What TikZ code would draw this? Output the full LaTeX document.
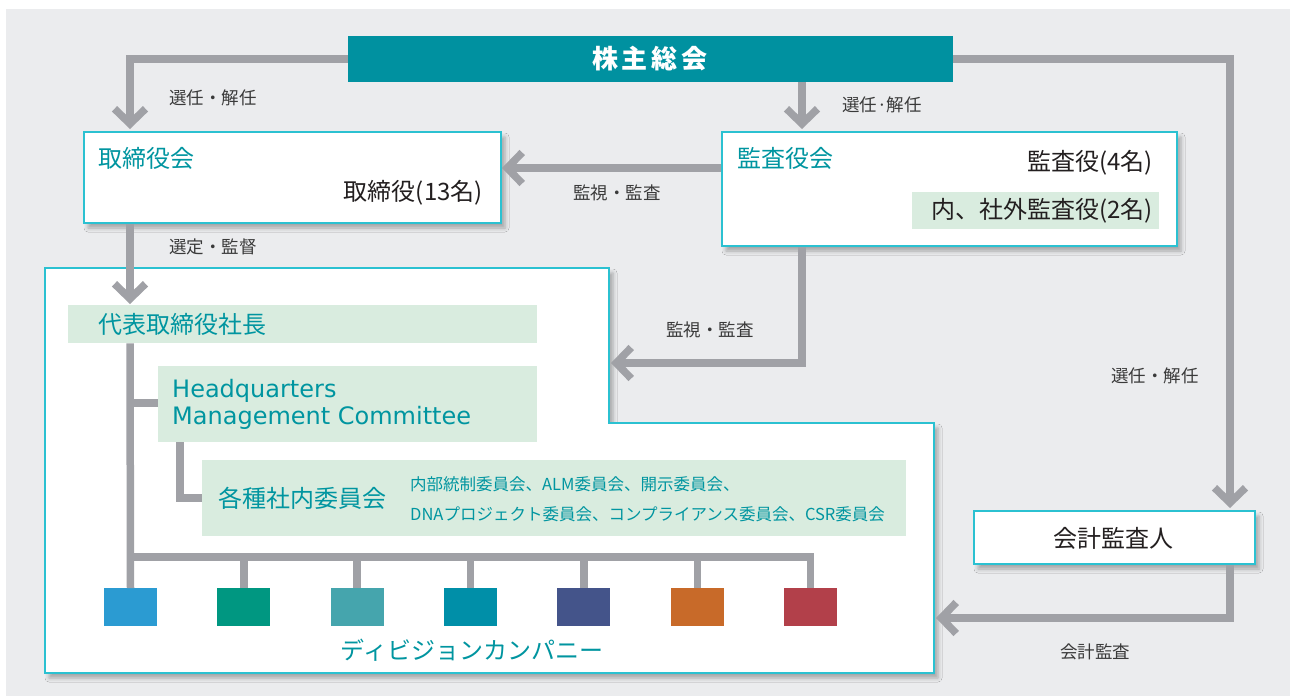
\documentclass[tikz,border=0pt]{standalone}
\usepackage{fontspec}
\setmainfont{Noto Sans CJK JP}
\newfontfamily\hqfont{DejaVu Sans}
\usetikzlibrary{arrows.meta,shadows.blur}
\definecolor{bg}{HTML}{EBECEE}
\definecolor{tealbar}{HTML}{0091A0}
\definecolor{cyanb}{HTML}{2BC1D1}
\definecolor{lgreen}{HTML}{D9ECDF}
\definecolor{tealtxt}{HTML}{0095A0}
\definecolor{lgray}{HTML}{A0A1A6}
\definecolor{txtc}{HTML}{231F20}
\definecolor{lblc}{HTML}{3A3A3A}
\definecolor{sqA}{HTML}{2B9BD2}
\definecolor{sqB}{HTML}{009781}
\definecolor{sqC}{HTML}{45A5AD}
\definecolor{sqD}{HTML}{008FA8}
\definecolor{sqE}{HTML}{44548A}
\definecolor{sqF}{HTML}{C86A29}
\definecolor{sqG}{HTML}{B2404A}
\begin{document}
\begin{tikzpicture}[x=1pt,y=-1pt,
  conn/.style={draw=lgray, line width=7.5pt, line join=miter},
  arr/.style={conn, -{Straight Barb[length=15pt,width=31pt]}},
  shad/.style={blur shadow={shadow xshift=4pt, shadow yshift=-5pt, shadow blur radius=4pt, shadow opacity=30}},
  wbox/.style={draw=cyanb, line width=2pt, fill=white, anchor=north west, inner sep=0pt, shad},
  gbox/.style={fill=lgreen, anchor=north west, inner sep=0pt},
  lbl/.style={text=lblc, font=\fontsize{17.5}{20}\selectfont, inner sep=0pt},
  ttl/.style={text=tealtxt, font=\fontsize{24}{28}\selectfont, inner sep=0pt},
  blk/.style={text=txtc, font=\fontsize{24}{28}\selectfont, inner sep=0pt},
  sq/.style={minimum width=53pt, minimum height=38pt, inner sep=0pt, anchor=north}
]
\useasboundingbox (0,0) rectangle (1290,696);
\fill[white] (0,0) rectangle (1290,696);
\fill[bg] (6,9) rectangle (1290,696);

% big white area
\path[draw=cyanb, line width=2pt, fill=white, shad]
  (45,268) -- (609,268) -- (609,423) -- (934,423) -- (934,673) -- (45,673) -- cycle;

% top bar
\node[fill=tealbar, minimum width=605pt, minimum height=46pt, anchor=north west, inner sep=0pt] (kabu) at (348,36) {};
\node[text=white, font=\fontsize{26}{30}\selectfont\bfseries, inner sep=0pt] (kabut) at (650,59) {株\kern4pt主\kern4pt総\kern4pt会};

% boards
\node[wbox, minimum width=417pt, minimum height=91pt] (tori) at (83,131) {};
\node[ttl, anchor=west] (torit) at (98,158) {取締役会};
\node[blk, anchor=east] (torin) at (483,193) {取締役(13名)};

\node[wbox, minimum width=455pt, minimum height=114pt] (kansa) at (721,131) {};
\node[ttl, anchor=west] (kansat) at (737,158) {監査役会};
\node[blk, anchor=east] (kansan) at (1153,163) {監査役(4名)};
\node[gbox, minimum width=247pt, minimum height=37pt] (shagai) at (912,192) {};
\node[blk, anchor=east] (shagait) at (1153,211) {内、社外監査役(2名)};

\node[wbox, minimum width=281pt, minimum height=53pt] (kaikei) at (973,510) {};
\node[blk] (kaikeit) at (1113,538) {会計監査人};

% inside big box
\node[gbox, minimum width=469pt, minimum height=38pt] (daihyo) at (68,305) {};
\node[ttl, anchor=west] (daihyot) at (98,324) {代表取締役社長};
\node[gbox, minimum width=379pt, minimum height=76pt] (hq) at (158,366) {};
\node[ttl, anchor=west, align=left, font=\hqfont\fontsize{24}{27}\selectfont] (hqt) at (172,404) {Headquarters\\Management Committee};
\node[gbox, minimum width=704pt, minimum height=76pt] (iin) at (202,460) {};
\node[ttl, anchor=west] (iint) at (218,498) {各種社内委員会};
\node[text=tealtxt, font=\fontsize{16.5}{19}\selectfont, inner sep=0pt, anchor=west] (iinl1) at (410,484) {内部統制委員会、ALM委員会、開示委員会、};
\node[text=tealtxt, font=\fontsize{16.5}{19}\selectfont, inner sep=0pt, anchor=west] (iinl2) at (410,514) {DNAプロジェクト委員会、コンプライアンス委員会、CSR委員会};

\foreach \i/\c in {1/sqA,2/sqB,3/sqC,4/sqD,5/sqE,6/sqF,7/sqG}{
  \node[sq, fill=\c] (sq\i) at ({130.5+113.35*(\i-1)},588) {};
}
\node[ttl] (divt) at (472,650) {ディビジョンカンパニー};

% coordinates for connector ends
\coordinate (toriIn) at (130,129);
\coordinate (kansaIn) at (802,129);
\coordinate (kaikeiIn) at (1230,508);
\coordinate (toriE) at (502,168);
\coordinate (bigIn1) at (611,363);
\coordinate (bigIn2) at (936,618);
\coordinate (daihyoIn) at (130,304);

% connectors
\draw[arr] (kabu.west) -| (toriIn);
\draw[arr] (kabu.south -| kansaIn) -- (kansaIn);
\draw[arr] (kabu.east) -| (kaikeiIn);
\draw[arr] (kansa.west |- toriE) -- (toriE);
\draw[arr] (kansa.south -| kansaIn) |- (bigIn1);
\draw[arr] (kaikei.south -| kaikeiIn) |- (bigIn2);
\draw[arr] (tori.south -| toriIn) -- (daihyoIn);

\draw[conn] (daihyo.south -| daihyoIn) -- (sq1.north);
\draw[conn] (130,403) -- (hq.west |- 0,403);
\draw[conn] (hq.south -| 180,0) |- (iin.west |- 0,498);
\draw[conn] (130,557) -| (sq7.north);
\foreach \i in {2,...,6}{
  \draw[conn] (sq\i.north |- 0,557) -- (sq\i.north);
}

% labels
\node[lbl] (l1) at (213,98) {選任・解任};
\node[lbl] (l2) at (882,105) {選任·解任};
\node[lbl] (l3) at (617,193) {監視・監査};
\node[lbl] (l4) at (213,247) {選定・監督};
\node[lbl] (l5) at (710,330) {監視・監査};
\node[lbl] (l6) at (1155,376) {選任・解任};
\node[lbl] (l7) at (1095,652) {会計監査};
\end{tikzpicture}
\end{document}
